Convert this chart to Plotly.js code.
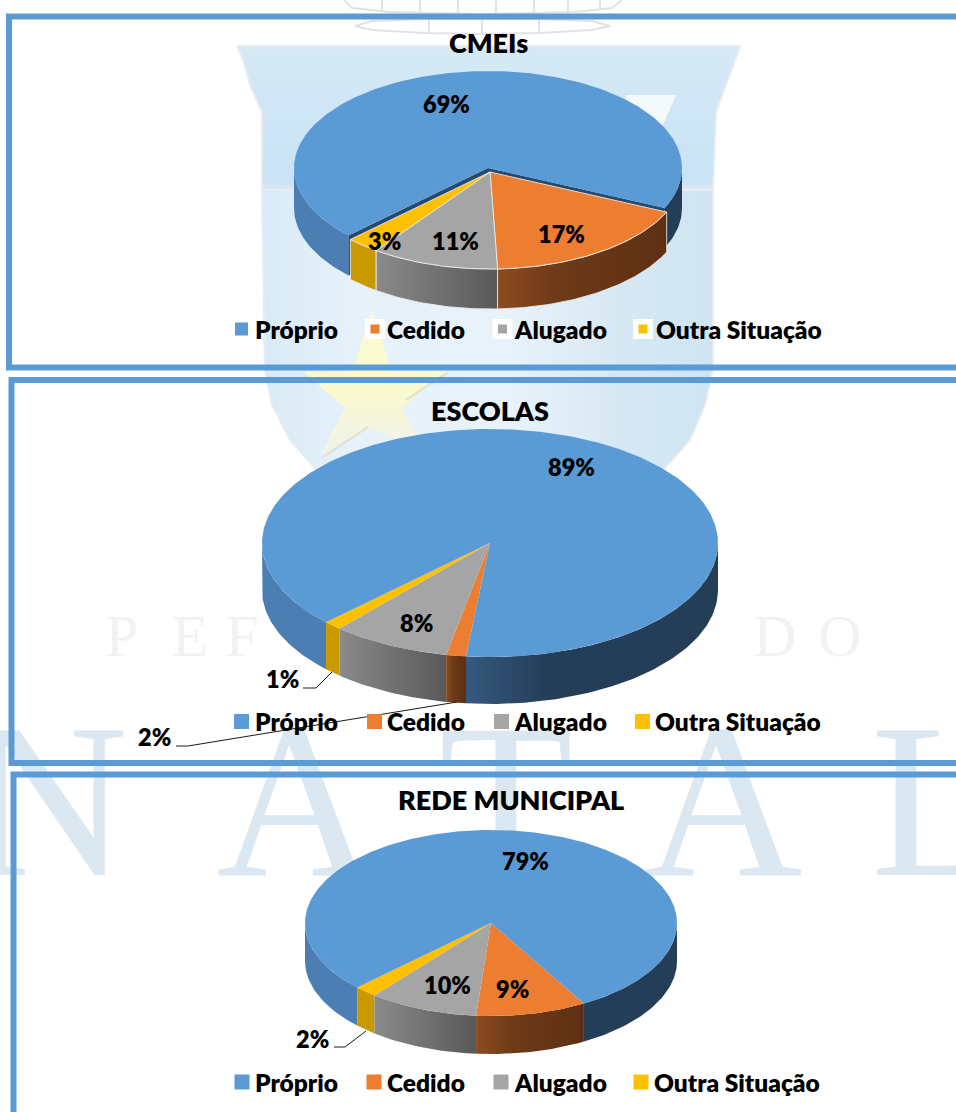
<!DOCTYPE html>
<html><head><meta charset="utf-8">
<script src="https://cdn.plot.ly/plotly-3.0.1.min.js"></script>
<style>html,body{margin:0;padding:0;background:#fff}#c{width:956px;height:1112px}</style>
</head><body><div id="c"></div>
<script>
// ---- data ----
const categories = ["Próprio", "Cedido", "Alugado", "Outra Situação"];
const cmeiValues = [69, 17.6, 10.6, 2.8];
const escolasValues = [88.9, 1.4, 8.4, 1.3];
const redeValues = [78.9, 9.6, 9.5, 2];
const cmeiLabels = ["69%", "17%", "11%", "3%"];
const escolasLabels = ["89%", "2%", "8%", "1%"];
const redeLabels = ["79%", "9%", "10%", "2%"];
const chartTitles = ["CMEIs", "ESCOLAS", "REDE MUNICIPAL"];

// ---- styling / layout ----
const FONT = "Lato, Carlito, sans-serif";
const topColors = ["#5b9bd5", "#ed7d31", "#a5a5a5", "#ffc000"];
const darkSide = [[0, "#243e57"], [1, "#243e57"]];
const charts = [
  {title: chartTitles[0], titlePos: [488, 42], values: cmeiValues, labels: cmeiLabels,
   cx: 490, cy: 172, rx: 194, ry: 97, d: 40, ox: -2, oy: -4, edge: true, rightScale: darkSide,
   labelPos: [[446, 104], [561, 234], [455, 241], [384, 241]],
   legendY: 329, legendMarks: [241.5, 375, 502.5, 643], legendText: [256, 388, 515, 657], halo: true, leaders: []},
  {title: chartTitles[1], titlePos: [490, 410], values: escolasValues, labels: escolasLabels,
   cx: 490, cy: 543, rx: 228, ry: 114, d: 47, ox: 0, oy: 0, edge: false,
   rightScale: [[0, "#36597f"], [0.32, "#243e57"], [1, "#243e57"]],
   labelPos: [[571, 467], [154, 737], [416, 623], [282, 679]],
   legendY: 721.5, legendMarks: [241.5, 374.5, 501.5, 642.5], legendText: [256, 388, 515, 656], halo: false,
   leaders: [[[176, 188, 457], [746, 746, 702]], [[303, 316, 332], [688, 688, 672]]]},
  {title: chartTitles[2], titlePos: [511, 799], values: redeValues, labels: redeLabels,
   cx: 491, cy: 923, rx: 186, ry: 93, d: 38, ox: 0, oy: 0, edge: false, rightScale: darkSide,
   labelPos: [[525, 861], [512, 989], [447, 985], [312, 1039]],
   legendY: 1082, legendMarks: [242, 374, 501, 641], legendText: [256, 388, 515, 655], halo: false,
   leaders: [[[334, 345, 366], [1047, 1047, 1031]]]}
];
const START_ANGLE = 226;   // clockwise from 12 o'clock, where "Próprio" starts

const wallScales = [
  null,
  [[0, "#8c4b20"], [0.35, "#6e3a18"], [1, "#5e3013"]],
  [[0, "#8a8a8a"], [1, "#595959"]],
  [[0, "#c99a00"], [1, "#c99a00"]]
];

const traces = [];
const base = {mode: "lines", hoverinfo: "skip", showlegend: false, line: {width: 0}};

// ---- faint background artwork ----
const shieldLowX = [262, 713, 713, 705, 690, 665, 625, 565, 490, 415, 355, 315, 290, 272, 265, 262];
const shieldLowY = [190, 190, 370, 405, 440, 468, 488, 497, 498, 497, 488, 468, 440, 405, 370, 190];
traces.push(Object.assign({}, base, {x: shieldLowX, y: shieldLowY, fill: "toself", fillcolor: "#d6e8f5",
  line: {color: "#e6ecef", width: 2},
  fillgradient: {type: "horizontal", colorscale: [[0, "#d8eaf7"], [0.2, "#e6f1fa"], [0.55, "#e8f2fa"], [0.8, "#d6e8f4"], [1, "#cfe4f3"]]}}));
const shieldTopX = [237, 740, 735, 726, 716, 713, 262, 262, 250, 243, 237];
const shieldTopY = [46, 46, 60, 85, 112, 190, 190, 112, 85, 60, 46];
traces.push(Object.assign({}, base, {x: shieldTopX, y: shieldTopY, fill: "toself", fillcolor: "#cfe5f5",
  line: {color: "#e6ecef", width: 2},
  fillgradient: {type: "vertical", colorscale: [[0, "#dfe9ef"], [0.06, "#c8e3f5"], [1, "#d6e9f5"]]}}));
const sevenX = [625, 676, 652];
const sevenY = [95, 95, 150];
traces.push(Object.assign({}, base, {x: sevenX, y: sevenY, fill: "toself", fillcolor: "#f4f9fc"}));
const starX = [372, 392, 446, 402, 426, 372, 320, 345, 304, 352];
const starY = [310, 372, 372, 408, 456, 428, 456, 408, 372, 372];
traces.push(Object.assign({}, base, {x: starX, y: starY, fill: "toself", fillcolor: "#fbf8cc",
  fillgradient: {type: "vertical", colorscale: [[0, "#eef3ec"], [0.5, "#fcfacb"], [1, "#fbf9d6"]]}}));
traces.push({mode: "lines", hoverinfo: "skip", showlegend: false, line: {color: "#e2e2d6", width: 2.5},
  x: [323, 368, null, 406, 447], y: [457, 427, null, 400, 373]});
const crown = {mode: "lines", hoverinfo: "skip", showlegend: false, line: {color: "#e2e2e2", width: 2},
  x: [344, 352, 390, 482, 575, 612, 622, null, 355, 372, 425, 482, 540, 592, 610, 610, 592, 540, 482, 425, 372, 355,
      null, 382, 382, null, 420, 420, null, 458, 458, null, 496, 496, null, 534, 534, null, 568, 568, null, 600, 600,
      null, 429, 429, null, 482, 482, null, 539, 539],
  y: [0, 8, 12, 14, 12, 8, 0, null, 26, 21, 19, 19, 19, 21, 26, 26, 30, 33, 34, 33, 30, 26,
      null, 0, 12, null, 0, 13, null, 0, 13, null, 0, 13, null, 0, 13, null, 0, 12, null, 0, 10,
      null, 19, 33, null, 19, 34, null, 19, 33]};
traces.push(crown);
const bigLetters = ["N", "A", "T", "A", "L"];
traces.push({type: "scatter", mode: "text", hoverinfo: "skip", showlegend: false,
  x: [49, 296, 506, 723, 938], y: [820, 820, 820, 820, 820], text: bigLetters, textposition: "middle center",
  textfont: {family: "Liberation Serif", size: 220, color: "#dbe8f1"}});
traces.push({type: "scatter", mode: "text", hoverinfo: "skip", showlegend: false,
  x: [122, 190, 242, 775, 840], y: [641, 641, 641, 641, 641], text: ["P", "E", "F", "D", "O"], textposition: "middle center",
  textfont: {family: "Liberation Serif", size: 60, color: "#f2f2f2"}});

// ---- pie geometry through the axes ----
function pt(a, c) {
  const r = a * Math.PI / 180;
  return [c.x + c.rx * Math.sin(r), c.y - c.ry * Math.cos(r)];
}
function arc(a0, a1, c, dy) {
  const xs = [], ys = [], n = Math.max(2, Math.ceil(Math.abs(a1 - a0)));
  for (let i = 0; i <= n; i++) {
    const p = pt(a0 + (a1 - a0) * i / n, c);
    xs.push(p[0]); ys.push(p[1] + (dy || 0));
  }
  return [xs, ys];
}
function wedge(a0, a1, c, color, line) {
  const s = arc(a0, a1, c);
  traces.push(Object.assign({}, base, {x: [c.x, ...s[0], c.x], y: [c.y, ...s[1], c.y], fill: "toself", fillcolor: color,
    line: line || {width: 0}}));
}
function wall(a0, a1, c, d, scale, solid, line) {
  if (a1 <= a0) return;
  const t = arc(a0, a1, c), b = arc(a1, a0, c, d);
  const tr = Object.assign({}, base, {x: [...t[0], ...b[0], t[0][0]], y: [...t[1], ...b[1], t[1][0]], fill: "toself",
    fillcolor: solid || scale[0][1], line: line || {width: 0}});
  if (scale) tr.fillgradient = {type: "horizontal", colorscale: scale};
  traces.push(tr);
}
const annotations = [];
function text(x, y, s, size, anchor) {
  annotations.push({x, y, xref: "x", yref: "y", text: s, showarrow: false, xanchor: anchor || "center", yanchor: "middle",
    borderpad: 0, borderwidth: 0, xshift: anchor === "left" ? -1 : 0,
    font: {family: FONT, size, color: "#000", weight: 800}});
}

charts.forEach(ch => {
  const total = ch.values.reduce((a, b) => a + b, 0);
  const spans = [];
  let a = START_ANGLE;
  ch.values.forEach(v => { const e = a + v / total * 360; spans.push([a, e]); a = e; });
  const blueEnd = spans[0][1] - 360;
  const others = spans.slice(1).map(s => [s[0] - 360, s[1] - 360]);
  const rest = {x: ch.cx, y: ch.cy, rx: ch.rx, ry: ch.ry};
  const blue = {x: ch.cx + ch.ox, y: ch.cy + ch.oy, rx: ch.rx, ry: ch.ry};

  // sides of the big slice: left and right parts have separate shading
  wall(START_ANGLE, 270, blue, ch.d, null, "#4b7fb4");
  wall(90, blueEnd, blue, ch.d, ch.rightScale, "#243e57");
  if (ch.ox || ch.oy) {
    const p0 = pt(START_ANGLE, blue), p1 = pt(blueEnd, blue);
    traces.push(Object.assign({}, base, {
      x: [p0[0], blue.x, p1[0], p1[0], blue.x, p0[0], p0[0]],
      y: [p0[1], blue.y, p1[1], p1[1] + ch.d, blue.y + ch.d, p0[1] + ch.d, p0[1]],
      fill: "toself", fillcolor: "#264a6e"}));
  }
  // the other slices, sides first
  const edge = ch.edge ? {color: "rgba(235,235,235,0.85)", width: 1} : {width: 0};
  for (let i = 2; i >= 0; i--) wall(others[i][0], Math.min(others[i][1], 270), rest, ch.d, wallScales[i + 1], null, edge);
  others.forEach((s, i) => wedge(s[0], s[1], rest, topColors[i + 1], edge));
  wedge(START_ANGLE, blueEnd + 360, blue, topColors[0]);

  // leader lines
  ch.leaders.forEach(l => traces.push({mode: "lines", hoverinfo: "skip", showlegend: false, x: l[0], y: l[1],
    line: {color: "#1a1a1a", width: 1}}));

  // legend swatches
  const legY = ch.legendMarks.map(() => ch.legendY);
  if (ch.halo) traces.push({mode: "markers", hoverinfo: "skip", showlegend: false,
    x: ch.legendMarks.slice(1), y: legY.slice(1), marker: {symbol: "square", color: "#ffffff", size: 20, opacity: 1}});
  traces.push({mode: "markers", hoverinfo: "skip", showlegend: false,
    x: ch.legendMarks, y: legY,
    marker: {symbol: "square", color: topColors, size: ch.halo ? [14, 10, 10, 10] : 15, opacity: 1}});

  // text
  text(ch.titlePos[0], ch.titlePos[1], ch.title, 27);
  ch.labels.forEach((s, i) => text(ch.labelPos[i][0], ch.labelPos[i][1], s, 23.5));
  categories.forEach((s, i) => text(ch.legendText[i], ch.legendY, s, 24.5, "left"));
});

// panel frames run off the right side of the picture
const frame = (x0, y0, y1) => ({type: "rect", xref: "x", yref: "y", x0, y0, x1: 1000, y1, fillcolor: "rgba(0,0,0,0)",
  line: {color: "#5b9bd5", width: 6}});
const layout = {
  width: 956, height: 1112, margin: {l: 0, r: 0, t: 0, b: 0},
  paper_bgcolor: "#ffffff", plot_bgcolor: "#ffffff", showlegend: false, hovermode: false,
  xaxis: {range: [0, 956], visible: false, fixedrange: true},
  yaxis: {range: [1112, 0], visible: false, fixedrange: true},
  shapes: [frame(9, 16.5, 367.5), frame(11.5, 380, 763), frame(13.5, 774.5, 1140)],
  annotations
};
Plotly.newPlot("c", traces, layout, {displayModeBar: false, staticPlot: true});
</script></body></html>
